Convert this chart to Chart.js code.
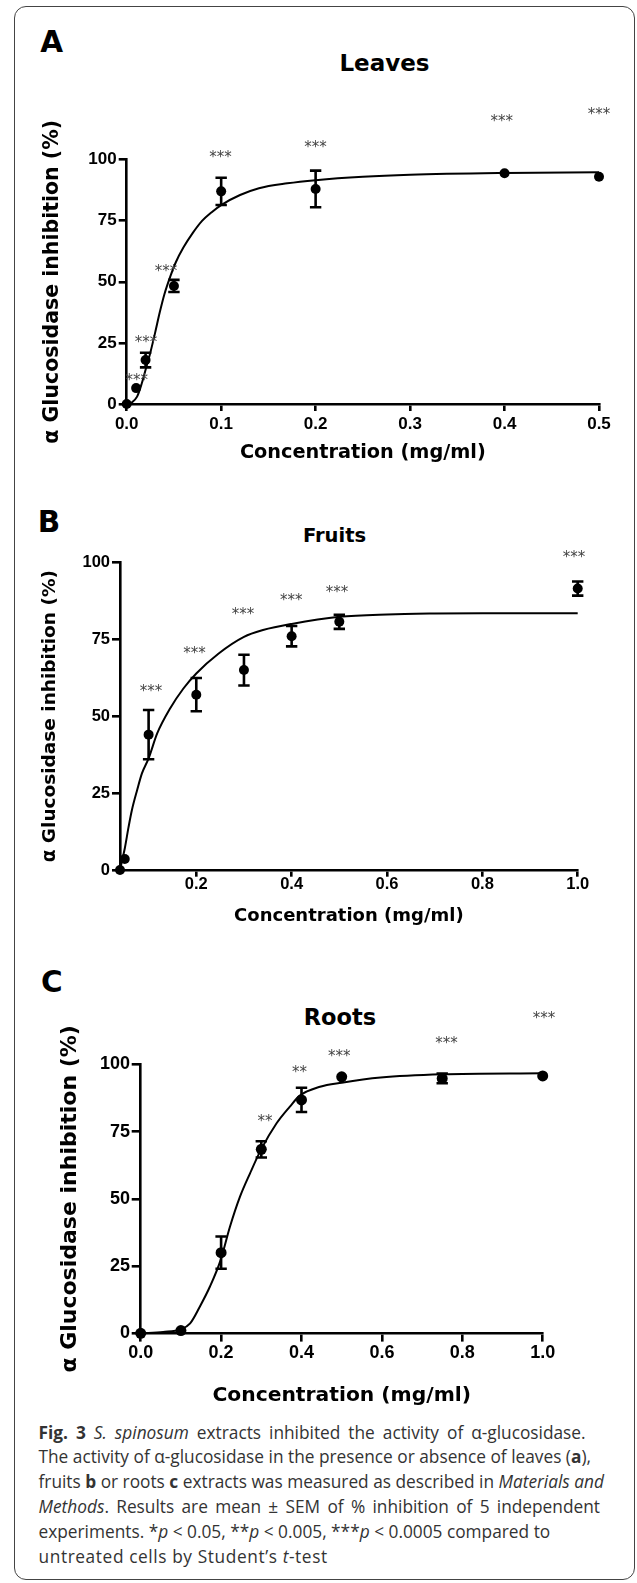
<!DOCTYPE html>
<html>
<head>
<meta charset="utf-8">
<script src="https://cdn.jsdelivr.net/npm/chart.js@4.4.1/dist/chart.umd.min.js"></script>
<style>
  body { margin: 0; background: #fff; }
  #page { position: relative; width: 637px; height: 1583px; overflow: hidden; }
  #frame {
    position: absolute; left: 14px; top: 6px; width: 619px; height: 1572px;
    border: 1.5px solid #444; border-radius: 12px;
  }
  canvas { position: absolute; left: 0; }
  .letter, .title {
    position: absolute; font-family: "DejaVu Sans", sans-serif; font-weight: bold;
    line-height: 1; color: #000; white-space: nowrap;
  }
  .letter { font-size: 29.5px; }
  .title { width: 200px; text-align: center; }
  #caption {
    position: absolute; left: 38.5px; top: 1420.5px;
    font-family: "Open Sans", sans-serif; font-size: 17.3px; line-height: 24.9px;
    color: #333; white-space: nowrap;
  }
</style>
</head>
<body>
<div id="page">
  <div id="frame"></div>

  <div class="letter" style="left:40.3px; top:28.2px;">A</div>
  <div class="title" style="left:284.5px; top:52.3px; font-size:23px;">Leaves</div>
  <canvas id="leaves" width="637" height="390" style="top:90px;"></canvas>

  <div class="letter" style="left:37.8px; top:508.2px;">B</div>
  <div class="title" style="left:234.5px; top:526px; font-size:19.5px;">Fruits</div>
  <canvas id="fruits" width="637" height="400" style="top:540px;"></canvas>

  <div class="letter" style="left:41px; top:968px;">C</div>
  <div class="title" style="left:240px; top:1005.7px; font-size:22.5px;">Roots</div>
  <canvas id="roots" width="637" height="410" style="top:1000px;"></canvas>

  <div id="caption">
    <span style="word-spacing:3.5px"><b>Fig. 3</b> <i>S. spinosum</i> extracts inhibited the activity of α-glucosidase.</span><br>
    The activity of α-glucosidase in the presence or absence of leaves (<b>a</b>),<br>
    fruits <b>b</b> or roots <b>c</b> extracts was measured as described in <i>Materials and</i><br>
    <span style="word-spacing:2.8px"><i>Methods</i>. Results are mean ± SEM of % inhibition of 5 independent</span><br>
    experiments. *<i>p</i> &lt; 0.05, **<i>p</i> &lt; 0.005, ***<i>p</i> &lt; 0.0005 compared to<br>
    <span style="letter-spacing:0.6px">untreated cells by Student’s <i>t</i>-test</span>
  </div>
</div>

<script>
// ---------- Leaves (A) ----------
const leavesConc = [0, 0.01, 0.02, 0.05, 0.1, 0.2, 0.4, 0.5];
const leavesMean = [0, 6.5, 18, 48.3, 87, 88, 94.4, 93];
const leavesSem  = [0, 0, 3, 2.5, 5.6, 7.5, 0, 0];
const leavesFitX = [0, 0.005, 0.011, 0.016, 0.02, 0.025, 0.03, 0.035, 0.04, 0.046, 0.052, 0.06,
                    0.07, 0.08, 0.09, 0.1, 0.12, 0.14, 0.17, 0.2, 0.25, 0.3, 0.4, 0.5];
const leavesFitY = [0, 0.5, 3, 8.5, 14, 21, 29, 37.5, 45, 52, 58, 64,
                    70, 75, 78.5, 81.4, 85.5, 88.3, 90.3, 91.6, 93, 93.8, 94.5, 94.8];
const leavesStarX = [0.0106, 0.0204, 0.0416, 0.0993, 0.2, 0.397, 0.5];
const leavesStarY = [11, 26.6, 55.5, 102.3, 106.3, 117, 119.8];
const leavesStars = ["***", "***", "***", "***", "***", "***", "***"];
const leavesXTicks = [0, 0.1, 0.2, 0.3, 0.4, 0.5];

// ---------- Fruits (B) ----------
const fruitsConc = [0.04, 0.05, 0.1, 0.2, 0.3, 0.4, 0.5, 1.0];
const fruitsMean = [0, 3.6, 44, 57, 65, 76, 80.7, 91.5];
const fruitsSem  = [0, 0, 8, 5.4, 5, 3.3, 2.3, 2.3];
const fruitsFitX = [0.04, 0.045, 0.05, 0.058, 0.065, 0.076, 0.086, 0.1, 0.118, 0.145, 0.173, 0.2,
                    0.247, 0.3, 0.34, 0.4, 0.5, 0.6, 0.7, 0.8, 1.0];
const fruitsFitY = [0, 3.5, 7, 14, 19.5, 26, 31.4, 36.3, 44.4, 52.5, 59, 63.9,
                    70.4, 75.8, 78, 80, 82.3, 83.1, 83.4, 83.5, 83.5];
const fruitsStarX = [0.105, 0.196, 0.298, 0.399, 0.495, 0.992];
const fruitsStarY = [59.1, 71.5, 84.3, 88.7, 91.3, 102.7];
const fruitsStars = ["***", "***", "***", "***", "***", "***"];
const fruitsXTicks = [0.2, 0.4, 0.6, 0.8, 1.0];

// ---------- Roots (C) ----------
const rootsConc = [0, 0.1, 0.2, 0.3, 0.4, 0.5, 0.75, 1.0];
const rootsMean = [0, 1, 30, 68.4, 86.8, 95.4, 94.8, 95.7];
const rootsSem  = [0, 0, 6, 3, 4.5, 0, 1.8, 0];
const rootsFitX = [0, 0.056, 0.1, 0.123, 0.147, 0.172, 0.199, 0.222, 0.247, 0.272, 0.299,
                   0.338, 0.371, 0.395, 0.446, 0.5, 0.597, 0.75, 1.0];
const rootsFitY = [0, 0.5, 1.5, 3.7, 9.9, 17.3, 27.3, 39.6, 50.8, 59.5, 68.2,
                   78.1, 84.3, 88.3, 91.7, 93.2, 95.1, 96.3, 96.7];
const rootsStarX = [0.309, 0.395, 0.494, 0.761, 1.003];
const rootsStarY = [80, 98.2, 104.1, 109.1, 118.4];
const rootsStars = ["**", "**", "***", "***", "***"];
const rootsXTicks = [0, 0.2, 0.4, 0.6, 0.8, 1.0];

const yTicks = [0, 25, 50, 75, 100];
const xTitle = "Concentration (mg/ml)";
const yTitle = "α Glucosidase inhibition (%)";

const toPoints = (xs, ys) => xs.map((x, i) => ({ x, y: ys[i] }));

// error bars drawn under the points, through the chart's scales
function errorBars(xs, mean, sem) {
  return {
    id: "errorBars",
    beforeDatasetsDraw(chart) {
      const { ctx, scales: { x, y } } = chart;
      ctx.save();
      ctx.strokeStyle = "#000";
      ctx.lineWidth = 2.6;
      xs.forEach((v, i) => {
        if (!sem[i]) return;
        const px = x.getPixelForValue(v);
        const top = y.getPixelForValue(mean[i] + sem[i]);
        const bot = y.getPixelForValue(mean[i] - sem[i]);
        ctx.beginPath();
        ctx.moveTo(px, top); ctx.lineTo(px, bot);
        ctx.moveTo(px - 5.7, top); ctx.lineTo(px + 5.7, top);
        ctx.moveTo(px - 5.7, bot); ctx.lineTo(px + 5.7, bot);
        ctx.stroke();
      });
      ctx.restore();
    }
  };
}

// significance asterisks
function sigStars(xs, ys, labels) {
  return {
    id: "sigStars",
    afterDatasetsDraw(chart) {
      const { ctx, scales: { x, y } } = chart;
      ctx.save();
      ctx.fillStyle = "#444";
      ctx.font = '15px "DejaVu Sans"';
      ctx.textAlign = "center";
      ctx.textBaseline = "alphabetic";
      labels.forEach((t, i) => {
        ctx.fillText(t, x.getPixelForValue(xs[i]), y.getPixelForValue(ys[i]) + 8);
      });
      ctx.restore();
    }
  };
}

function makePanel(id, p) {
  const tickFont = { family: "Liberation Sans", weight: "bold", size: p.tickSize };
  return new Chart(document.getElementById(id), {
    type: "scatter",
    data: {
      datasets: [
        {
          data: toPoints(p.fitX, p.fitY),
          showLine: true,
          borderColor: "#000",
          borderWidth: 2,
          pointRadius: 0,
          cubicInterpolationMode: "monotone",
          clip: false,
          order: 2
        },
        {
          data: toPoints(p.conc, p.mean),
          pointRadius: p.dot,
          backgroundColor: "#000",
          borderColor: "#000",
          borderWidth: 0,
          clip: false,
          order: 1
        }
      ]
    },
    options: {
      responsive: false,
      animation: false,
      events: [],
      layout: { padding: { top: p.padTop, right: p.padRight, left: 0, bottom: 0 } },
      plugins: { legend: { display: false }, tooltip: { enabled: false } },
      scales: {
        x: {
          type: "linear",
          min: p.xMin,
          max: p.xMax,
          afterBuildTicks: s => { s.ticks = p.xTicks.map(v => ({ value: v })); },
          afterFit: s => { s.height = p.xAxisH; },
          border: { color: "#000", width: 2.6 },
          grid: { drawOnChartArea: false, color: "#000", lineWidth: 2.6, tickLength: p.xTickLen },
          ticks: { color: "#000", font: tickFont, padding: p.xTickPad, maxRotation: 0,
                   callback: v => v.toFixed(1) },
          title: { display: true, text: xTitle, color: "#000",
                   font: { family: "DejaVu Sans", weight: "bold", size: p.xTitleSize, lineHeight: 1 },
                   padding: { top: 0, bottom: p.xTitlePad } }
        },
        y: {
          type: "linear",
          min: 0,
          max: 100,
          afterBuildTicks: s => { s.ticks = yTicks.map(v => ({ value: v })); },
          afterFit: s => { s.width = p.yAxisW; },
          border: { color: "#000", width: 2.6 },
          grid: { drawOnChartArea: false, color: "#000", lineWidth: 2.6, tickLength: p.yTickLen },
          ticks: { color: "#000", font: tickFont, padding: p.yTickPad },
          title: { display: true, text: yTitle, color: "#000",
                   font: { family: "DejaVu Sans", weight: "bold", size: p.yTitleSize, lineHeight: 1 },
                   padding: { top: p.yTitlePad, bottom: 0 } }
        }
      }
    },
    plugins: [errorBars(p.conc, p.mean, p.sem), sigStars(p.starX, p.starY, p.stars)]
  });
}

makePanel("leaves", {
  conc: leavesConc, mean: leavesMean, sem: leavesSem, fitX: leavesFitX, fitY: leavesFitY,
  starX: leavesStarX, starY: leavesStarY, stars: leavesStars, xTicks: leavesXTicks,
  xMin: 0, xMax: 0.5, dot: 5,
  padTop: 69.6, padRight: 38, yAxisW: 126.7, xAxisH: 76,
  tickSize: 17, yTickLen: 8, yTickPad: 2, xTickLen: 7, xTickPad: 2.8,
  xTitleSize: 19.3, xTitlePad: 17.3, yTitleSize: 20.5, yTitlePad: 42.7
});

makePanel("fruits", {
  conc: fruitsConc, mean: fruitsMean, sem: fruitsSem, fitX: fruitsFitX, fitY: fruitsFitY,
  starX: fruitsStarX, starY: fruitsStarY, stars: fruitsStars, xTicks: fruitsXTicks,
  xMin: 0.04, xMax: 1.0, dot: 5,
  padTop: 22.4, padRight: 59.3, yAxisW: 120, xAxisH: 70,
  tickSize: 16.5, yTickLen: 8, yTickPad: 2, xTickLen: 6.7, xTickPad: -2.6,
  xTitleSize: 18, xTitlePad: 15, yTitleSize: 18.5, yTitlePad: 41.3
});

makePanel("roots", {
  conc: rootsConc, mean: rootsMean, sem: rootsSem, fitX: rootsFitX, fitY: rootsFitY,
  starX: rootsStarX, starY: rootsStarY, stars: rootsStars, xTicks: rootsXTicks,
  xMin: 0, xMax: 1.0, dot: 5.5,
  padTop: 64.4, padRight: 94.3, yAxisW: 140.7, xAxisH: 76.7,
  tickSize: 18, yTickLen: 9, yTickPad: 1.7, xTickLen: 8.3, xTickPad: 0.6,
  xTitleSize: 20.3, xTitlePad: 3.9, yTitleSize: 22, yTitlePad: 59
});
</script>
</body>
</html>
